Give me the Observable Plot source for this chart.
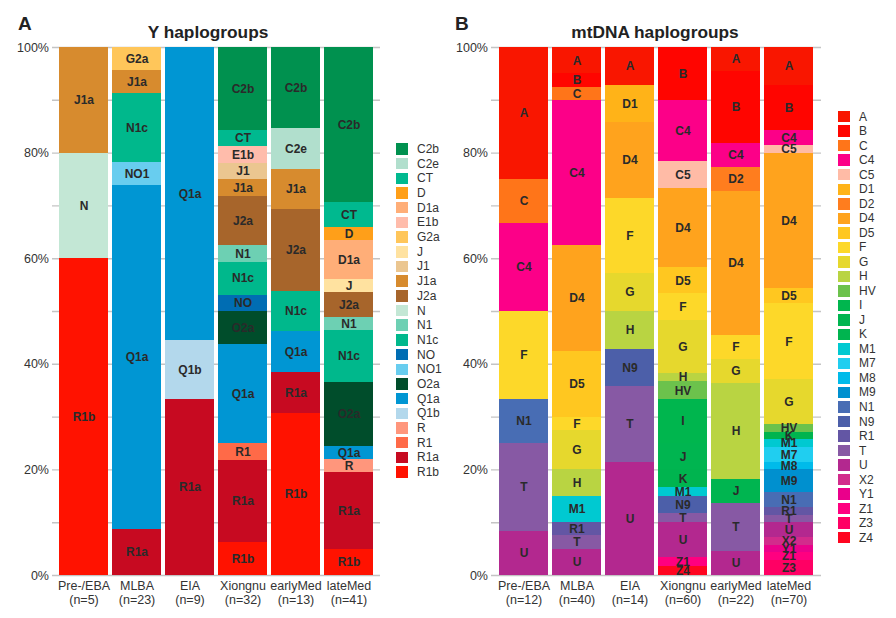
<!DOCTYPE html>
<html>
<head>
<meta charset="utf-8">
<script src="https://cdn.jsdelivr.net/npm/d3@7"></script>
<script src="https://cdn.jsdelivr.net/npm/@observablehq/plot@0.6"></script>
<style>
  body { margin: 0; background: #fff; font-family: "Liberation Sans", Arial, Helvetica, sans-serif; }
  #wrap { position: relative; width: 896px; height: 618px; overflow: hidden; }
  .panel { position: absolute; top: 0; }
  .title { position: absolute; font-weight: bold; color: #222; line-height: 1; white-space: nowrap; }
  .legend { position: absolute; }
  .lrow { display: flex; align-items: center; font-size: 12px; color: #333; }
  .sw { display: inline-block; }
</style>
</head>
<body>
<div id="wrap"></div>
<script>
// ---------- Y haplogroups ----------
const yGroups = ["Pre-/EBA", "MLBA", "EIA", "Xiongnu", "earlyMed", "lateMed"];
const yN = [5, 23, 9, 32, 13, 41];
const yHaplo = ["C2b","C2e","CT","D","D1a","E1b","G2a","J","J1","J1a","J2a","N","N1","N1c","NO","NO1","O2a","Q1a","Q1b","R","R1","R1a","R1b"];
const yColors = ["#00914f","#b1dfcd","#00b98f","#ff9f19","#ffae78","#ffbcab","#ffc65a","#ffe2a0","#ebc690","#d78b2e","#a7652b","#c3e7d5","#6dd0b3","#00b88c","#006db3","#68cdef","#004d2b","#0096d3","#b3d8ec","#ff967c","#ff6a48","#c70a21","#ff1200"];
const yPreEBA   = [["J1a",1],["N",1],["R1b",3]];
const yMLBA     = [["G2a",1],["J1a",1],["N1c",3],["NO1",1],["Q1a",15],["R1a",2]];
const yEIA      = [["Q1a",5],["Q1b",1],["R1a",3]];
const yXiongnu  = [["C2b",5],["CT",1],["E1b",1],["J1",1],["J1a",1],["J2a",3],["N1",1],["N1c",2],["NO",1],["O2a",2],["Q1a",6],["R1",1],["R1a",5],["R1b",2]];
const yEarlyMed = [["C2b",2],["C2e",1],["J1a",1],["J2a",2],["N1c",1],["Q1a",1],["R1a",1],["R1b",4]];
const yLateMed  = [["C2b",12],["CT",2],["D",1],["D1a",3],["J",1],["J2a",2],["N1",1],["N1c",4],["O2a",5],["Q1a",1],["R",1],["R1a",6],["R1b",2]];

// ---------- mtDNA haplogroups ----------
const mGroups = ["Pre-/EBA", "MLBA", "EIA", "Xiongnu", "earlyMed", "lateMed"];
const mN = [12, 40, 14, 60, 22, 70];
const mHaplo = ["A","B","C","C4","C5","D1","D2","D4","D5","F","G","H","HV","I","J","K","M1","M7","M8","M9","N1","N9","R1","T","U","X2","Y1","Z1","Z3","Z4"];
const mColors = ["#f91600","#ff0500","#ff7519","#fc0088","#ffbba6","#ffb318","#ff7d1e","#ffa31d","#ffc720","#fdd829","#e6d82d","#b9d442","#6cc24c","#00b64e","#00b550","#00b44f","#00c9d1","#20cef0","#00bbea","#0090cf","#486db4","#4c5fa9","#6356a4","#8759a4","#b3288f","#d22b8c","#ea008b","#ff0080","#ff0064","#ff0520"];
const mPreEBA   = [["A",3],["C",1],["C4",2],["F",2],["N1",1],["T",2],["U",1]];
const mMLBA     = [["A",2],["B",1],["C",1],["C4",11],["D4",8],["D5",5],["F",1],["G",3],["H",2],["M1",2],["R1",1],["T",1],["U",2]];
const mEIA      = [["A",1],["D1",1],["D4",2],["F",2],["G",1],["H",1],["N9",1],["T",2],["U",3]];
const mXiongnu  = [["B",6],["C4",7],["C5",3],["D4",9],["D5",3],["F",3],["G",6],["H",1],["HV",2],["I",5],["J",3],["K",2],["M1",1],["N9",2],["T",1],["U",4],["Z1",1],["Z4",1]];
const mEarlyMed = [["A",1],["B",3],["C4",1],["D2",1],["D4",6],["F",1],["G",1],["H",4],["J",1],["T",2],["U",1]];
const mLateMed  = [["A",5],["B",6],["C4",2],["C5",1],["D4",18],["D5",2],["F",10],["G",6],["HV",1],["K",1],["M1",1],["M7",2],["M8",1],["M9",3],["N1",2],["R1",1],["T",1],["U",2],["X2",1],["Y1",1],["Z1",1],["Z3",2]];

function toRows(groups, lists) {
  const rows = [];
  groups.forEach((g, i) => lists[i].forEach(([h, c]) => rows.push({group: g, haplo: h, count: c})));
  return rows;
}

const FONT = '"Liberation Sans", Arial, Helvetica, sans-serif';

function panel({groups, ns, haplo, colors, rows, marginLeft, marginRight, padOuter}) {
  const nOf = new Map(groups.map((g, i) => [g, ns[i]]));
  const order = haplo.slice().reverse();
  return Plot.plot({
    width: 448,
    height: 618,
    marginLeft, marginRight,
    marginTop: 47,
    marginBottom: 43,
    style: {fontFamily: FONT, background: "transparent", overflow: "visible"},
    x: {domain: groups, paddingInner: 0.078, paddingOuter: padOuter, align: 0.5, label: null},
    y: {domain: [0, 1], label: null},
    color: {domain: haplo, range: colors},
    marks: [
      Plot.gridY(d3.range(0, 1.0001, 0.1), {stroke: "#c4c4c4", strokeOpacity: 1, strokeWidth: 1.4}),
      Plot.barY(rows, Plot.stackY({x: "group", y: "count", fill: "haplo", order, offset: "normalize",
        shapeRendering: "crispEdges"})),
      Plot.text(rows, Plot.stackY({x: "group", y: "count", z: "haplo", text: "haplo", order, offset: "normalize",
        fontWeight: "bold", fontSize: 12, fill: "#2a2a2a"})),
      Plot.axisY(d3.range(0, 1.0001, 0.2), {tickFormat: d3.format(".0%"), tickSize: 0, tickPadding: 3.5,
        fontSize: 12.5, color: "#333", label: null}),
      Plot.axisX({tickSize: 0, tickPadding: 5, fontSize: 12.5, color: "#333", lineHeight: 1.1, label: null,
        tickFormat: g => g + "\n(n=" + nOf.get(g) + ")"})
    ]
  });
}

const wrap = document.getElementById("wrap");

const left = panel({groups: yGroups, ns: yN, haplo: yHaplo, colors: yColors,
  rows: toRows(yGroups, [yPreEBA, yMLBA, yEIA, yXiongnu, yEarlyMed, yLateMed]),
  marginLeft: 52, marginRight: 68, padOuter: 0.11});
left.classList.add("panel"); left.style.left = "0px";
wrap.appendChild(left);

const right = panel({groups: mGroups, ns: mN, haplo: mHaplo, colors: mColors,
  rows: toRows(mGroups, [mPreEBA, mMLBA, mEIA, mXiongnu, mEarlyMed, mLateMed]),
  marginLeft: 43, marginRight: 75, padOuter: 0.13});
right.classList.add("panel"); right.style.left = "448px";
wrap.appendChild(right);

function addTitle(text, size, leftPx, topPx, widthPx, align) {
  const d = document.createElement("div");
  d.className = "title";
  d.textContent = text;
  d.style.fontSize = size + "px";
  d.style.left = leftPx + "px";
  d.style.top = topPx + "px";
  if (widthPx) { d.style.width = widthPx + "px"; d.style.textAlign = align; }
  wrap.appendChild(d);
}
addTitle("A", 19, 18, 14);
addTitle("Y haplogroups", 17.3, 0, 24, 416, "center");
addTitle("B", 19, 455, 14);
addTitle("mtDNA haplogroups", 17.3, 455, 24, 400, "center");

function addLegend(haplo, colors, swLeft, textLeft, firstCenter, step) {
  const lg = document.createElement("div");
  lg.className = "legend";
  lg.style.left = swLeft + "px";
  lg.style.top = (firstCenter - step / 2) + "px";
  haplo.forEach((h, i) => {
    const r = document.createElement("div");
    r.className = "lrow";
    r.style.height = step + "px";
    const s = document.createElement("span");
    s.className = "sw";
    s.style.width = "12px";
    s.style.height = "11.5px";
    s.style.background = colors[i];
    s.style.marginRight = (textLeft - swLeft - 12) + "px";
    const t = document.createElement("span");
    t.textContent = h;
    r.appendChild(s); r.appendChild(t);
    lg.appendChild(r);
  });
  wrap.appendChild(lg);
}
addLegend(yHaplo, yColors, 396, 417, 149, 14.7);
addLegend(mHaplo, mColors, 838, 859, 116.7, 14.53);
</script>
</body>
</html>
